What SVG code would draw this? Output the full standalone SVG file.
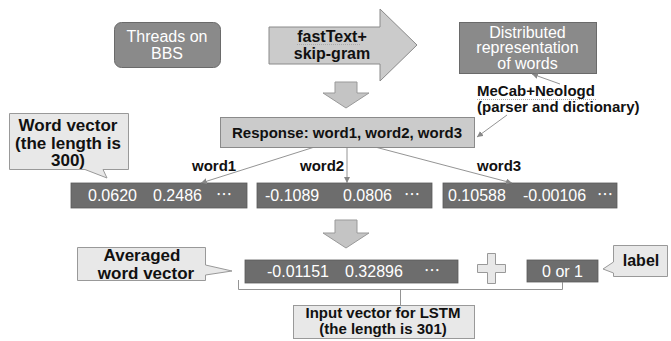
<svg xmlns="http://www.w3.org/2000/svg" width="671" height="341" viewBox="0 0 671 341">
<style>
.dark{fill:#6d6d6d;stroke:#5a5a5a;stroke-width:0.8}
.mid{fill:#8a8a8a;stroke:#6a6a6a;stroke-width:1}
.light{fill:#cbcbcb;stroke:#8a8a8a;stroke-width:1}
.call{fill:#e8e8e8;stroke:#999;stroke-width:1}
.arr{fill:#c4c4c4;stroke:#999;stroke-width:1}
.wt{font-family:"Liberation Sans",Arial,sans-serif;font-size:16px;fill:#fff}
.bt{font-family:"Liberation Sans",Arial,sans-serif;font-weight:bold;fill:#111}
.el{font-family:"Noto Sans CJK JP",sans-serif}
.ln{stroke:#888;stroke-width:0.9;fill:none}
.sq{stroke:#aaa;stroke-width:1;stroke-dasharray:1 1;fill:none}
</style>
<defs>
<marker id="ah" viewBox="0 0 6 6" refX="6" refY="3" markerWidth="6" markerHeight="6" orient="auto" markerUnits="userSpaceOnUse">
<path d="M0,0 L6,3 L0,6 Z" fill="#888"/>
</marker>
</defs>
<rect width="671" height="341" fill="#fff"/>

<g id="threads">
<rect class="mid" x="114.5" y="22.5" width="106" height="45" rx="7"/>
<text class="wt" text-anchor="middle" font-size="16.5" x="167" y="41.5">Threads on<tspan x="167" dy="17">BBS</tspan></text>
</g>

<g id="fasttext">
<polygon class="light" points="269,27 380,27 380,9 417,45 380,81 380,64 269,64"/>
<text class="bt" font-size="16" text-anchor="middle" x="332" y="42">fastText+<tspan x="332" dy="17">skip-gram</tspan></text>
<path class="sq" d="M297,44.5 H360"/>
</g>

<g id="distributed">
<rect class="mid" x="459.5" y="22.5" width="137" height="51"/>
<text class="wt" text-anchor="middle" font-size="16.5" x="527.5" y="37.5">Distributed<tspan x="527.5" dy="15.5">representation</tspan><tspan x="527.5" dy="15.5">of words</tspan></text>
</g>

<g id="mecab">
<text class="bt" font-size="15" x="477" y="96">MeCab+Neologd<tspan x="477" dy="15.5">(parser and dictionary)</tspan></text>
<path class="sq" d="M477,99.5 H597"/>
</g>

<g id="arrow1">
<polygon class="arr" points="335,82 357,82 357,93 369,93 346,108 323,93 335,93"/>
</g>

<g id="response">
<rect class="light" x="220.5" y="117.5" width="254" height="30"/>
<text class="bt" font-size="15" text-anchor="middle" x="347" y="137.5">Response: word1, word2, word3</text>
</g>

<g id="wordvector">
<path class="call" d="M9.5,113.5 H128.5 V169.5 H103 L107,178 L85,169.5 H9.5 Z"/>
<text class="bt" font-size="17" text-anchor="middle" x="68" y="131">Word vector<tspan x="68" dy="17.5">(the length is</tspan><tspan x="68" dy="17.5">300)</tspan></text>
</g>

<g id="labels">
<text class="bt" font-size="15" x="192" y="170.5">word1</text>
<text class="bt" font-size="15" x="300" y="170.5">word2</text>
<text class="bt" font-size="15" x="477" y="170.5">word3</text>
</g>

<g id="vec1">
<rect class="dark" x="71" y="183" width="176" height="25"/>
<text class="wt" x="88" y="201">0.0620</text>
<text class="wt" x="153" y="201">0.2486</text>
<text class="wt el" font-size="13" x="216" y="200">…</text>
</g>
<g id="vec2">
<rect class="dark" x="257" y="183" width="175" height="25"/>
<text class="wt" x="265" y="201">-0.1089</text>
<text class="wt" x="343" y="201">0.0806</text>
<text class="wt el" font-size="13" x="404" y="200">…</text>
</g>
<g id="vec3">
<rect class="dark" x="443" y="183" width="174" height="25"/>
<text class="wt" x="448" y="201">0.10588</text>
<text class="wt" x="523" y="201">-0.00106</text>
<text class="wt el" font-size="13" x="597" y="200">…</text>
</g>

<g id="arrow2">
<polygon class="arr" points="335,220 357,220 357,233 369,233 346,248 323,233 335,233"/>
</g>

<g id="averaged">
<path class="call" d="M77.5,247.5 H205.5 V265 L232,271 L205.5,275 V280.5 H77.5 Z"/>
<text class="bt" font-size="17" text-anchor="middle" x="142" y="261">Averaged<tspan x="146" dy="17.5">word vector</tspan></text>
</g>

<g id="avgvec">
<rect class="dark" x="245" y="260" width="213" height="23"/>
<text class="wt" x="267" y="277">-0.01151</text>
<text class="wt" x="345" y="277">0.32896</text>
<text class="wt el" font-size="13" x="424" y="276">…</text>
</g>

<g id="plus">
<path class="call" d="M487.5,253.5 H495.5 V264.5 H505.5 V272.5 H495.5 V283.5 H487.5 V272.5 H477.5 V264.5 H487.5 Z"/>
</g>

<g id="binary">
<rect class="dark" x="527" y="260" width="71" height="22"/>
<text class="wt" text-anchor="middle" x="562.5" y="277">0 or 1</text>
</g>

<g id="label">
<path class="call" d="M613.5,245.5 H667.5 V276.5 H613.5 V273 L603,269 L613.5,262 Z"/>
<text class="bt" font-size="16" text-anchor="middle" x="641" y="265.5">label</text>
</g>

<g id="input">
<rect class="call" x="293.5" y="305.5" width="181" height="33"/>
<text class="bt" font-size="15" text-anchor="middle" x="383" y="318">Input vector for LSTM<tspan x="383" dy="16">(the length is 301)</tspan></text>
</g>

<g id="connectors">
<line class="ln" x1="560" y1="84" x2="532" y2="74" marker-end="url(#ah)"/>
<line class="ln" x1="507" y1="115" x2="477" y2="137" marker-end="url(#ah)"/>
<line class="ln" x1="313" y1="147.5" x2="201" y2="183" marker-end="url(#ah)"/>
<line class="ln" x1="347" y1="147.5" x2="347" y2="183" marker-end="url(#ah)"/>
<line class="ln" x1="377" y1="147.5" x2="512" y2="183" marker-end="url(#ah)"/>
<path class="ln" d="M238.5,280 V289.5 H562.5 V282"/>
<path class="ln" d="M400.5,289.5 V305"/>
</g>
</svg>
